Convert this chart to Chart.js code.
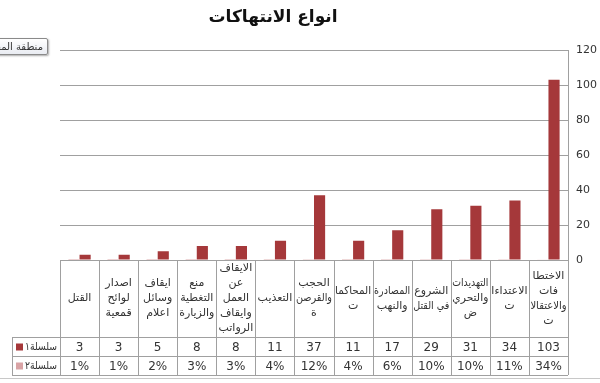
<!DOCTYPE html>
<html lang="ar">
<head>
<meta charset="utf-8">
<script src="https://cdn.jsdelivr.net/npm/chart.js@4/dist/chart.umd.min.js"></script>
<style>
  html,body{margin:0;padding:0;background:#fff;}
  #wrap{position:relative;width:600px;height:383px;overflow:hidden;}
  #tip{position:absolute;left:-28px;top:38px;width:76px;height:17px;border:1px solid #8a8a8a;border-radius:2px;
       background:linear-gradient(#fff,#e9ecf2);box-shadow:1px 1px 2px #aaa;font:10px 'DejaVu Sans',sans-serif;color:#333;
       direction:rtl;text-align:right;line-height:16px;padding-right:4px;box-sizing:border-box;white-space:nowrap;}
</style>
</head>
<body>
<div id="wrap">
  <canvas id="chart" width="600" height="383"></canvas>
  <div id="tip">منطقة المخطط</div>
</div>
<script>
// categories (right to left in the picture), each split into the lines shown in the table
const categories = [
  ['الاختطا','فات','والاعتقالا','ت'],
  ['الاعتداءا','ت'],
  ['التهديدات','والتحري','ض'],
  ['الشروع','في القتل'],
  ['المصادرة','والنهب'],
  ['المحاكما','ت'],
  ['الحجب','والقرصن','ة'],
  ['التعذيب'],
  ['الايقاف','عن','العمل','وايقاف','الرواتب'],
  ['منع','التغطية','والزيارة'],
  ['ايقاف','وسائل','اعلام'],
  ['اصدار','لوائح','قمعية'],
  ['القتل']
];
const series1 = [103, 34, 31, 29, 17, 11, 37, 11, 8, 8, 5, 3, 3];
const series2Pct = [34, 11, 10, 10, 6, 4, 12, 4, 3, 3, 2, 1, 1];
const seriesNames = ['سلسلة١', 'سلسلة٢'];
const yTicks = [0, 20, 40, 60, 80, 100, 120];
const chartTitle = 'انواع الانتهاكات';

const red = '#A5383A', pink = '#D9A3A5';
const arFont = "'DejaVu Sans', sans-serif";

// draws title + the excel-like data table under the plot
const tablePlugin = {
  id: 'dataTable',
  afterDraw(chart){
    const ctx = chart.ctx, x = chart.scales.x, area = chart.chartArea;
    const n = categories.length, w = (area.right - area.left) / n;
    const top = area.bottom, r1 = 337, r2 = 356, bot = 375, legL = 12;
    ctx.save();
    // title
    ctx.fillStyle = '#111';
    ctx.font = "bold 17px " + arFont;
    ctx.textAlign = 'center'; ctx.textBaseline = 'middle';
    ctx.fillText(chartTitle, 273, 18);

    // grid
    ctx.strokeStyle = '#a0a0a0'; ctx.lineWidth = 1;
    ctx.beginPath();
    ctx.moveTo(area.left, top + 0.5); ctx.lineTo(area.right, top + 0.5);
    [r1, r2, bot].forEach(y => { ctx.moveTo(legL, y + 0.5); ctx.lineTo(area.right, y + 0.5); });
    for (let i = 0; i <= n; i++) {
      const px = Math.round(area.left + i * w) + 0.5;
      ctx.moveTo(px, top); ctx.lineTo(px, bot);
    }
    ctx.moveTo(legL + 0.5, r1); ctx.lineTo(legL + 0.5, bot);
    ctx.stroke();

    // outer chart border line at the bottom
    ctx.strokeStyle = '#c8c8c8';
    ctx.beginPath(); ctx.moveTo(0, 378.5); ctx.lineTo(600, 378.5); ctx.stroke();

    ctx.fillStyle = '#333';
    ctx.textAlign = 'center';
    categories.forEach((lines, i) => {
      const cx = x.getPixelForValue(i);
      ctx.font = "11px " + arFont;
      const lh = 15, h = lines.length * lh;
      const y0 = top + (r1 - top - h) / 2 + lh / 2;
      lines.forEach((t, k) => ctx.fillText(t, cx, y0 + k * lh, w - 3));
      ctx.font = "12px 'DejaVu Sans', sans-serif";
      ctx.fillText(String(series1[i]), cx, (r1 + r2) / 2 + 1);
      ctx.fillText(series2Pct[i] + '%', cx, (r2 + bot) / 2 + 1);
    });

    // legend keys
    ctx.font = "11px " + arFont;
    ctx.textAlign = 'right';
    [[seriesNames[0], red, r1, r2], [seriesNames[1], pink, r2, bot]].forEach(([name, col, a, b]) => {
      const cy = (a + b) / 2;
      ctx.fillStyle = col; ctx.fillRect(16, cy - 3, 7, 7);
      ctx.fillStyle = '#333'; ctx.fillText(name, 57, cy + 1, 32);
    });
    ctx.restore();
  }
};

new Chart(document.getElementById('chart').getContext('2d'), {
  type: 'bar',
  data: {
    labels: categories.map(c => c.join(' ')),
    datasets: [
      { label: seriesNames[1], data: series2Pct.map(v => v / 100), backgroundColor: pink },
      { label: seriesNames[0], data: series1, backgroundColor: red }
    ]
  },
  options: {
    responsive: false,
    animation: false,
    layout: { padding: { left: 60, top: 50, bottom: 123, right: 0 } },
    datasets: { bar: { categoryPercentage: 0.57, barPercentage: 1 } },
    plugins: { legend: { display: false }, title: { display: false }, tooltip: { enabled: false } },
    scales: {
      x: { reverse: true, display: false },
      y: {
        position: 'right', min: 0, max: 120,
        afterBuildTicks: s => { s.ticks = yTicks.map(v => ({ value: v })); },
        afterFit: s => { s.width = 32; },
        grid: { color: '#a0a0a0', drawTicks: false },
        border: { color: '#a0a0a0' },
        ticks: { color: '#333', padding: 8, font: { size: 11, family: "'DejaVu Sans', sans-serif" } }
      }
    }
  },
  plugins: [tablePlugin]
});
</script>
</body>
</html>
